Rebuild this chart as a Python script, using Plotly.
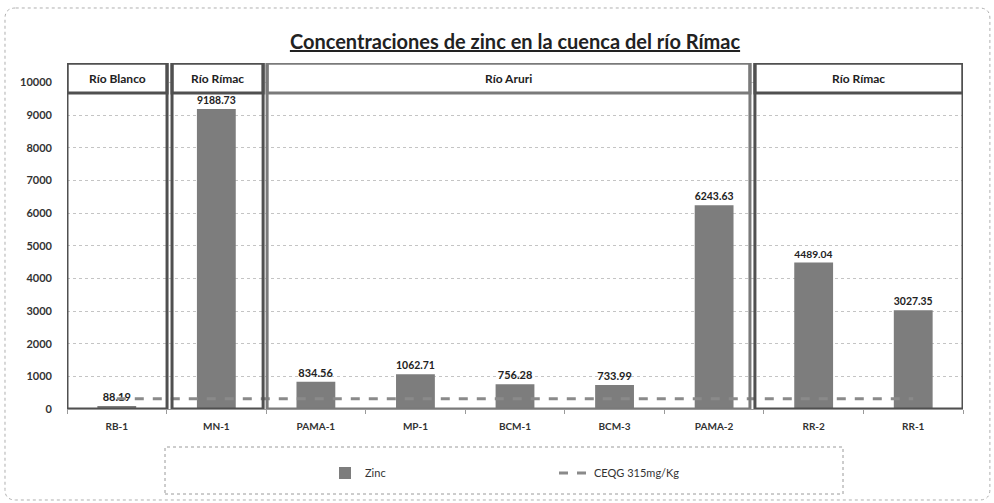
import plotly.graph_objects as go

categories = ["RB-1", "MN-1", "PAMA-1", "MP-1", "BCM-1", "BCM-3", "PAMA-2", "RR-2", "RR-1"]
zinc = [88.19, 9188.73, 834.56, 1062.71, 756.28, 733.99, 6243.63, 4489.04, 3027.35]
ceqg = [315] * len(categories)
y_ticks = [0, 1000, 2000, 3000, 4000, 5000, 6000, 7000, 8000, 9000, 10000]
y_tick_text = [str(v) for v in y_ticks]
groups = ["Río Blanco", "Río Rímac", "Río Aruri", "Río Rímac"]
group_x0 = [-0.5, 0.555, 1.51, 6.41]
group_x1 = [0.505, 1.47, 6.36, 8.5]
group_color = ["#505050", "#505050", "#7a7a7a", "#505050"]

FONT = "Lato, 'Open Sans', sans-serif"
Y_TOP = 10600
HEADER_BOTTOM = 9681

fig = go.Figure()
fig.add_trace(go.Bar(
    x=categories, y=zinc, name="Zinc",
    marker=dict(color="#7d7d7d", line=dict(width=0)),
    width=0.39,
    texttemplate="%{y:.2f}", textposition="outside",
    textfont=dict(family=FONT, size=11, color="#222222", weight="bold"),
    cliponaxis=False,
))
fig.add_trace(go.Scatter(
    x=categories, y=ceqg, name="CEQG 315mg/Kg", mode="lines",
    line=dict(color="#8a8a8a", width=3, dash="dash"),
))

shapes = []
annotations = []
for name, x0, x1, col in zip(groups, group_x0, group_x1, group_color):
    shapes.append(dict(type="rect", xref="x", yref="y", x0=x0, x1=x1, y0=HEADER_BOTTOM, y1=Y_TOP,
                       fillcolor="white", line=dict(color=col, width=3), layer="above"))
    shapes.append(dict(type="rect", xref="x", yref="y", x0=x0, x1=x1, y0=0, y1=Y_TOP,
                       fillcolor="rgba(0,0,0,0)", line=dict(color=col, width=3), layer="above"))
    annotations.append(dict(x=(x0 + x1) / 2, y=(HEADER_BOTTOM + Y_TOP) / 2, xref="x", yref="y",
                            text="<b>%s</b>" % name, showarrow=False,
                            font=dict(family=FONT, size=12, color="#222222")))

# outer chart border (rounded)
px0, px1, py0, py1 = -0.0692, 1.030, -0.263, 1.159
rx, ry = 0.012, 0.03
path = (f"M {px0+rx},{py1} L {px1-rx},{py1} Q {px1},{py1} {px1},{py1-ry} "
        f"L {px1},{py0+ry} Q {px1},{py0} {px1-rx},{py0} L {px0+rx},{py0} "
        f"Q {px0},{py0} {px0},{py0+ry} L {px0},{py1-ry} Q {px0},{py1} {px0+rx},{py1} Z")
shapes.append(dict(type="path", xref="paper", yref="paper", path=path,
                   line=dict(color="#b0b0b0", width=1, dash="dot"), layer="below"))
# legend box
shapes.append(dict(type="rect", xref="paper", yref="paper",
                   x0=(165 - 67) / 896, x1=(843 - 67) / 896,
                   y0=(409 - 494) / 346, y1=(409 - 447) / 346,
                   line=dict(color="#9a9a9a", width=1, dash="dot"), layer="below"))

fig.update_layout(
    width=994, height=503,
    margin=dict(l=67, r=31, t=63, b=94),
    paper_bgcolor="white", plot_bgcolor="white",
    font=dict(family=FONT, size=10, color="#333333"),
    title=dict(text="<b><u>Concentraciones de zinc en la cuenca del río Rímac</u></b>",
               x=0.5, xref="paper", xanchor="center", y=1 - 42 / 503, yanchor="middle",
               font=dict(family=FONT, size=20, color="#222222")),
    bargap=0.6,
    showlegend=True,
    legend=dict(orientation="h", x=(325 - 67) / 896, xanchor="left", y=(409 - 473) / 346, yanchor="middle",
                font=dict(family=FONT, size=11, color="#333333"),
                entrywidth=184, entrywidthmode="pixels", bgcolor="rgba(0,0,0,0)"),
    shapes=shapes, annotations=annotations,
    xaxis=dict(type="category", showline=True, linecolor="#9a9a9a", linewidth=1,
               ticks="outside", tickson="boundaries", ticklen=4, tickcolor="#9a9a9a",
               tickfont=dict(family=FONT, size=10, color="#333333", weight="bold"),
               ticklabelstandoff=8, showgrid=False, range=[-0.5, 8.5]),
    yaxis=dict(range=[0, Y_TOP], tickvals=y_ticks, ticktext=y_tick_text, showgrid=True,
               gridcolor="#c4c4c4", griddash="dot", gridwidth=1, zeroline=False, showline=False,
               tickfont=dict(family=FONT, size=11, color="#333333", weight="bold"),
               ticklabelstandoff=14),
)

fig.write_html("out.html", config={"displayModeBar": False},
               post_script="document.body.style.margin='0';")
